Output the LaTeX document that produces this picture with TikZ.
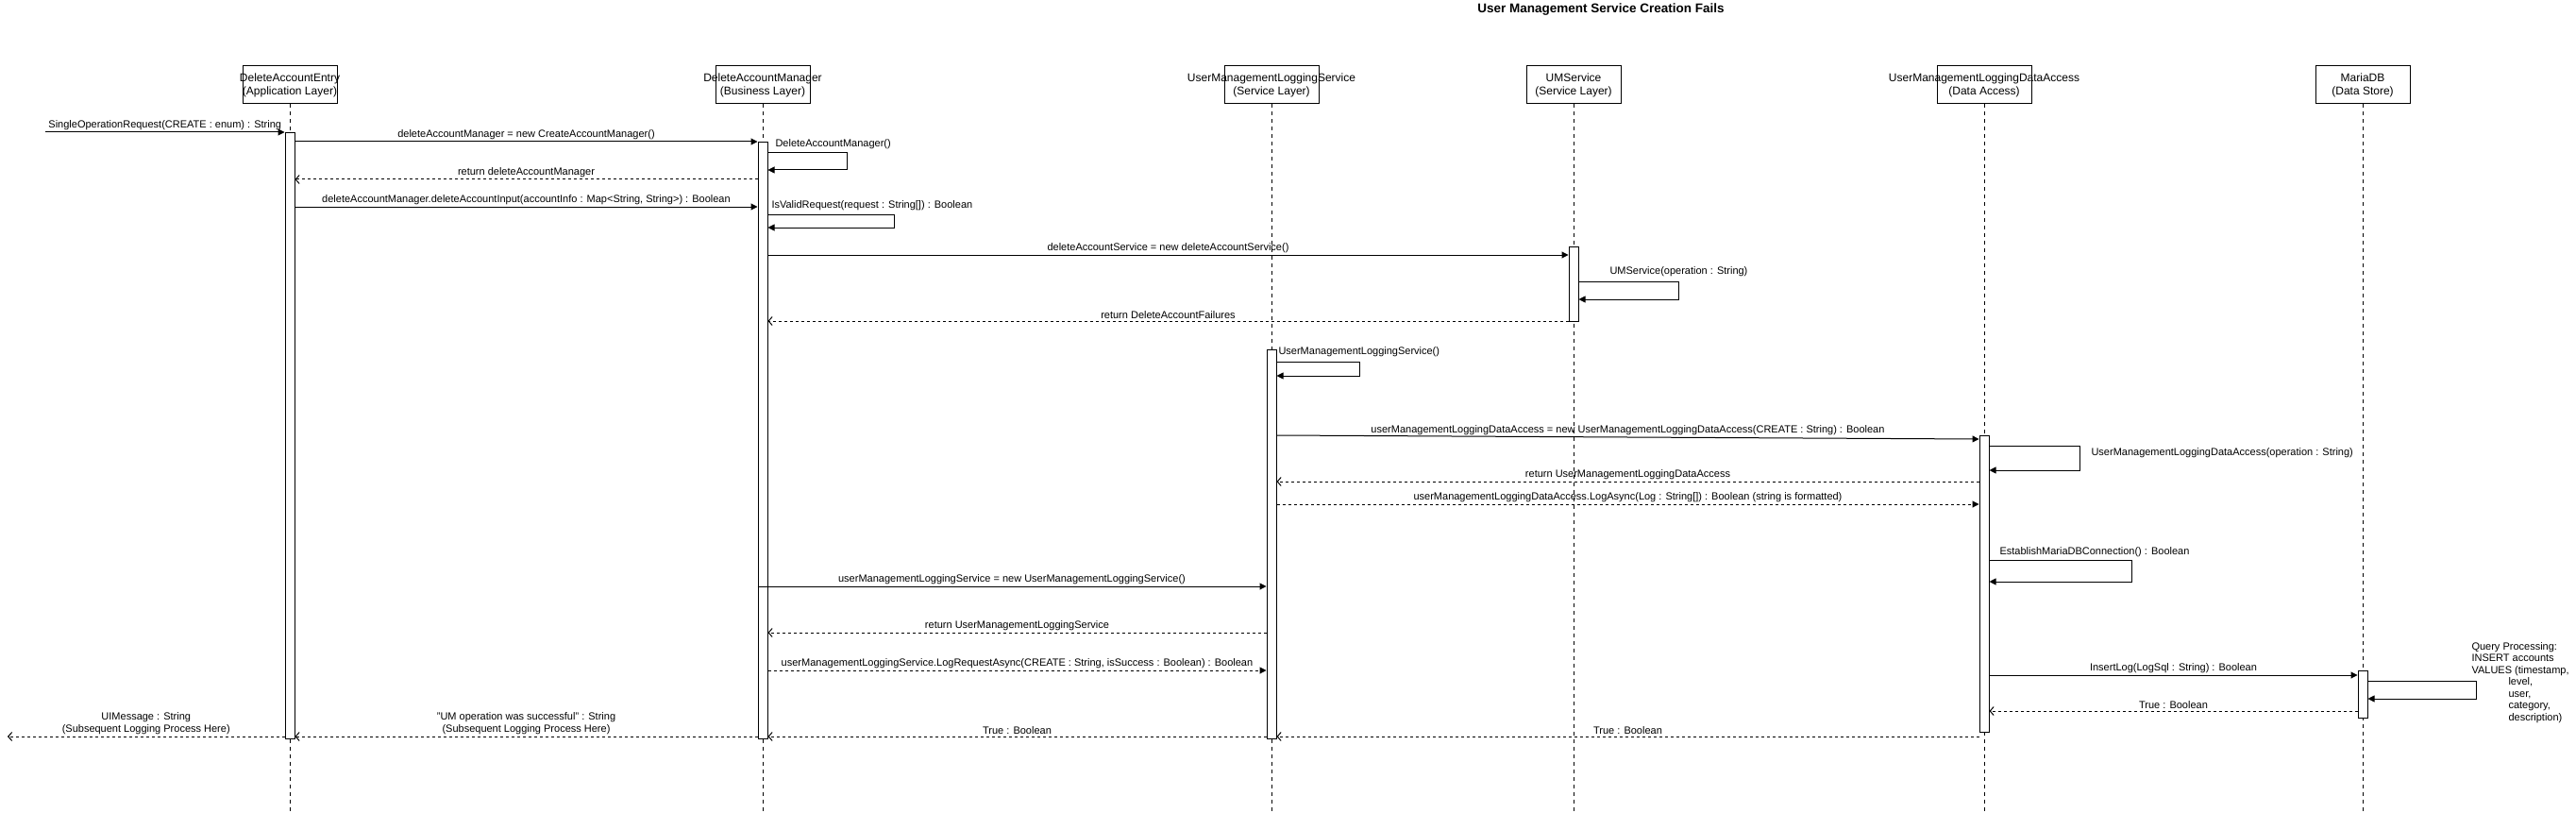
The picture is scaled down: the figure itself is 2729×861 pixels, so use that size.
\documentclass[tikz,border=0pt]{standalone}
\usepackage{fontspec}
\setmainfont{Liberation Sans}
\usetikzlibrary{arrows.meta}
\newcommand\msgfont{\fontsize{11}{13}\selectfont}
\newcommand\headfont{\fontsize{12}{14}\selectfont}
\newcommand\headtext[2]{\makebox[0pt]{#1}\\\makebox[0pt]{#2}}
\begin{document}
\begin{tikzpicture}[
            x=1pt, y=-1pt,
            line width=1pt,
            head/.style={draw, minimum width=100, minimum height=40, inner sep=0, align=center, font=\headfont},
            act/.style={draw, fill=white, minimum width=10, inner sep=0, anchor=north},
            life/.style={dash pattern=on 4pt off 4pt, line width=0.8pt},
            msg/.style={-{Triangle[length=7pt,width=7pt]}},
            async/.style={-{Triangle[length=7pt,width=7pt]}, dash pattern=on 3pt off 3pt},
            ret/.style={-{Straight Barb[length=4pt,width=9pt]}, dash pattern=on 3pt off 3pt},
            lab/.style={above, inner sep=2pt, font=\msgfont, align=center},
            side/.style={anchor=west, inner sep=1pt, font=\msgfont, align=left}
            ]
        \useasboundingbox (0,0) rectangle (2729,861);
        \node[font=\fontsize{13.5}{15}\selectfont\bfseries] (title) at (1696,10) {User Management Service Creation Fails};

        \node[head] (entry) at (307,90) {\headtext{DeleteAccountEntry}{(Application Layer)}};
        \node[head] (mgr) at (808,90) {\headtext{DeleteAccountManager}{(Business Layer)}};
        \node[head] (logsvc) at (1347,90) {\headtext{UserManagementLoggingService}{(Service Layer)}};
        \node[head] (umsvc) at (1667,90) {\headtext{UMService}{(Service Layer)}};
        \node[head] (logda) at (2102,90) {\headtext{UserManagementLoggingDataAccess}{(Data Access)}};
        \node[head] (mdb) at (2503,90) {\headtext{MariaDB}{(Data Store)}};

        \foreach \n in {entry, mgr, logsvc, umsvc, logda, mdb}
            \draw[life] (\n.south) -- (\n.south |- 0,861);

        \node[act, minimum height=642] (entryAct) at (entry.south |- 0,140) {};
        \node[act, minimum height=632] (mgrAct) at (mgr.south |- 0,150) {};
        \node[act, minimum height=79] (umsvcAct) at (umsvc.south |- 0,261) {};
        \node[act, minimum height=412] (logsvcAct) at (logsvc.south |- 0,370) {};
        \node[act, minimum height=314] (logdaAct) at (logda.south |- 0,461) {};
        \node[act, minimum height=50] (mdbAct) at (mdb.south |- 0,710) {};

        \coordinate (src) at (48,140);
        \coordinate (sink) at (8,780);

        \draw[msg] (src) -- (entryAct.west |- 0,140)
            node[lab, midway] {SingleOperationRequest(CREATE : enum) : String};
        \draw[msg] (entryAct.east |- 0,150) -- (mgrAct.west |- 0,150)
            node[lab, midway] {deleteAccountManager = new CreateAccountManager()};
        \draw[msg] (mgrAct.east |- 0,162) -| (897,180) -- (mgrAct.east |- 0,180);
        \node[side] (dam) at (820,153) {DeleteAccountManager()};
        \draw[ret] (mgrAct.west |- 0,190) -- (entryAct.east |- 0,190)
            node[lab, midway] {return deleteAccountManager};
        \draw[msg] (entryAct.east |- 0,219) -- (mgrAct.west |- 0,219)
            node[lab, midway] {deleteAccountManager.deleteAccountInput(accountInfo : Map<String, String>) : Boolean};
        \draw[msg] (mgrAct.east |- 0,227) -| (947,241) -- (mgrAct.east |- 0,241);
        \node[side] (valid) at (816,218) {IsValidRequest(request : String[]) : Boolean};
        \draw[msg] (mgrAct.east |- 0,270) -- (umsvcAct.west |- 0,270)
            node[lab, midway] {deleteAccountService = new deleteAccountService()};
        \draw[msg] (umsvcAct.east |- 0,298) -| (1778,317) -- (umsvcAct.east |- 0,317);
        \node[side] (ums) at (1704,288) {UMService(operation : String)};
        \draw[ret] (umsvcAct.west |- 0,340) -- (mgrAct.east |- 0,340)
            node[lab, midway] {return DeleteAccountFailures};

        \draw[msg] (logsvcAct.east |- 0,383) -| (1440,398) -- (logsvcAct.east |- 0,398);
        \node[side] (umls) at (1353,373) {UserManagementLoggingService()};
        \draw[msg] (logsvcAct.east |- 0,461) -- (logdaAct.west |- 0,465)
            node[lab, midway] {userManagementLoggingDataAccess = new UserManagementLoggingDataAccess(CREATE : String) : Boolean};
        \draw[msg] (logdaAct.east |- 0,472) -| (2203,498) -- (logdaAct.east |- 0,498);
        \node[side] (umlda) at (2214,480) {UserManagementLoggingDataAccess(operation : String)};
        \draw[ret] (logdaAct.west |- 0,510) -- (logsvcAct.east |- 0,510)
            node[lab, midway] {return UserManagementLoggingDataAccess};
        \draw[async] (logsvcAct.east |- 0,534) -- (logdaAct.west |- 0,534)
            node[lab, midway] {userManagementLoggingDataAccess.LogAsync(Log : String[]) : Boolean (string is formatted)};
        \draw[msg] (logdaAct.east |- 0,593) -| (2258,616) -- (logdaAct.east |- 0,616);
        \node[side] (conn) at (2117,585) {EstablishMariaDBConnection() : Boolean};

        \draw[msg] (mgrAct.west |- 0,621) -- (logsvcAct.west |- 0,621)
            node[lab, midway] {userManagementLoggingService = new UserManagementLoggingService()};
        \draw[ret] (logsvcAct.west |- 0,670) -- (mgrAct.east |- 0,670)
            node[lab, midway] {return UserManagementLoggingService};
        \draw[async] (mgrAct.east |- 0,710) -- (logsvcAct.west |- 0,710)
            node[lab, midway] {userManagementLoggingService.LogRequestAsync(CREATE : String, isSuccess : Boolean) : Boolean};

        \draw[msg] (logdaAct.east |- 0,715) -- (mdbAct.west |- 0,715)
            node[lab, midway] {InsertLog(LogSql : String) : Boolean};
        \draw[msg] (mdbAct.east |- 0,721) -| (2623,740) -- (mdbAct.east |- 0,740);
        \node[side, font=\fontsize{11}{12.5}\selectfont] (query) at (2617,723) {Query Processing:\\INSERT accounts\\VALUES (timestamp,\\
            \hspace*{39pt}level,\\\hspace*{39pt}user,\\\hspace*{39pt}category,\\\hspace*{39pt}description)};
        \draw[ret] (mdbAct.west |- 0,753) -- (logdaAct.east |- 0,753)
            node[lab, midway] {True : Boolean};

        \draw[ret] (logdaAct.west |- 0,780) -- (logsvcAct.east |- 0,780)
            node[lab, midway] {True : Boolean};
        \draw[ret] (logsvcAct.west |- 0,780) -- (mgrAct.east |- 0,780)
            node[lab, midway] {True : Boolean};
        \draw[ret] (mgrAct.west |- 0,780) -- (entryAct.east |- 0,780)
            node[lab, midway] {"UM operation was successful" : String\\(Subsequent Logging Process Here)};
        \draw[ret] (entryAct.west |- 0,780) -- (sink)
            node[lab, midway] {UIMessage : String\\(Subsequent Logging Process Here)};
        \end{tikzpicture}
\end{document}
